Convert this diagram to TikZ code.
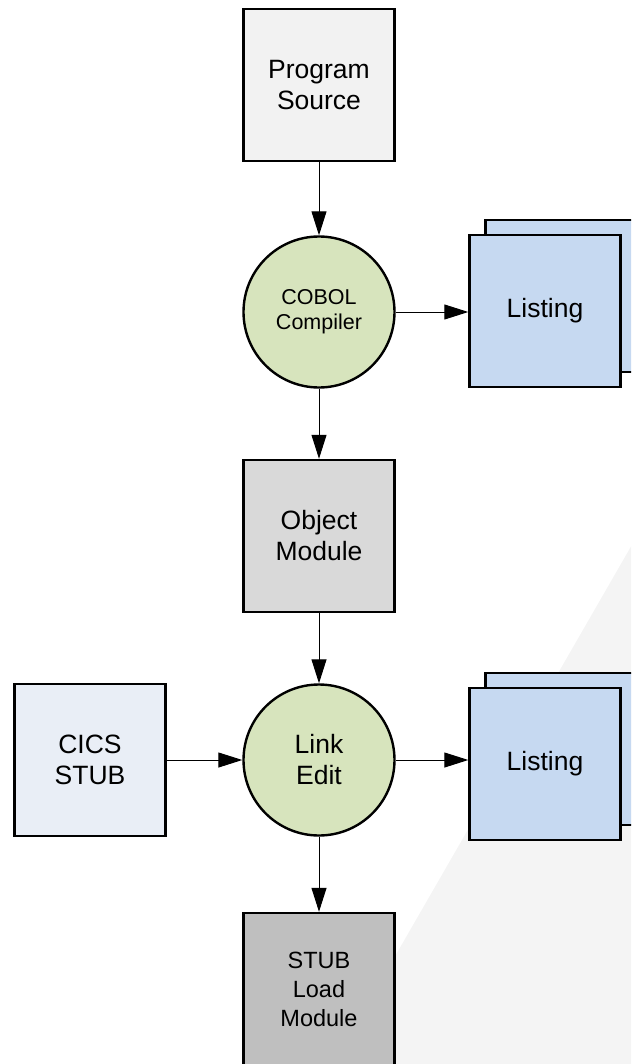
\documentclass[tikz,border=0pt]{standalone}
\usepackage{fontspec}
\setmainfont{Liberation Sans}
\usetikzlibrary{arrows.meta,shapes}

\definecolor{srcgrey}{HTML}{F2F2F2}
\definecolor{stepgreen}{HTML}{D7E4BD}
\definecolor{listblue}{HTML}{C6D9F1}
\definecolor{objgrey}{HTML}{D9D9D9}
\definecolor{stubblue}{HTML}{E9EEF6}
\definecolor{loadgrey}{HTML}{BFBFBF}
\definecolor{backdropgrey}{HTML}{F4F4F4}

\begin{document}
\begin{tikzpicture}[x=1pt,y=-1pt,
		 dataset/.style={draw, line width=2.4pt, minimum width=151pt, minimum height=152pt,
		   align=center, font=\fontsize{26.5}{31}\selectfont},
		 process/.style={draw, circle, line width=2.4pt, fill=stepgreen, minimum size=151pt,
		   align=center},
		 flow/.style={-{Triangle[length=24pt,width=15pt]}, line width=1pt}]
    \useasboundingbox (0,0) rectangle (631,1064);
    \clip (0,0) rectangle (631,1064);
    % faint backdrop
    \fill[backdropgrey] (633,543) -- (333,1064) -- (631,1064) -- cycle;
		\node[dataset, fill=srcgrey] (source)  at (319,85)
		    {Program\\Source};
		\node[process, font=\fontsize{21.5}{25}\selectfont] (compiler) at (319,312)
		    {COBOL\\Compiler};
		\node[dataset, fill=listblue] (listingback)  at (561,296) {};
		\node[dataset, fill=listblue] (listing)  at (545,311) {Listing};
		\node[dataset, fill=objgrey] (object)  at (319,536)
		    {Object\\Module};
		\node[process, font=\fontsize{26.5}{31}\selectfont] (linkedit) at (319,760)
		    {Link\\Edit};
		\node[dataset, fill=stubblue] (cics)  at (90,760)
		    {CICS\\STUB};
		\node[dataset, fill=listblue] (linklistingback)  at (561,749) {};
		\node[dataset, fill=listblue] (linklisting)  at (545,764) {Listing};
		\node[dataset, fill=loadgrey, font=\fontsize{23.5}{29}\selectfont] (loadmod)  at (319,989)
		    {STUB\\Load\\Module};
		\draw[flow]  (source) -- (compiler);
		\draw[flow]  (compiler) -- (compiler -| listing.west);
		\draw[flow]  (compiler) -- (object);
		\draw[flow]  (object) -- (linkedit);
		\draw[flow]  (cics) -- (linkedit);
		\draw[flow]  (linkedit) -- (linkedit -| linklisting.west);
		\draw[flow]  (linkedit) -- (loadmod);
\end{tikzpicture}
\end{document}
